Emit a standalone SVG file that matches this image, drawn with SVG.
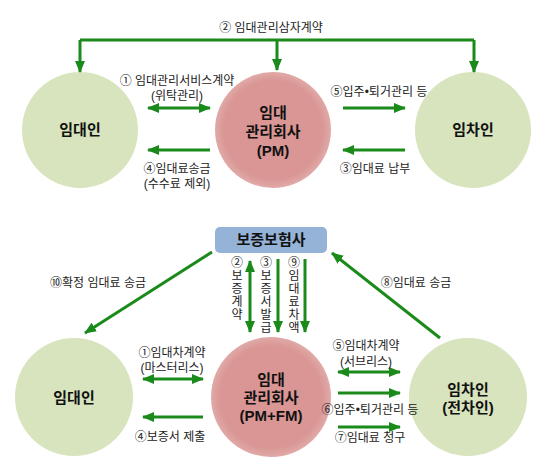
<svg xmlns="http://www.w3.org/2000/svg" width="540" height="468" viewBox="0 0 540 468">
<defs>
<marker id="ah" markerUnits="userSpaceOnUse" markerWidth="12" markerHeight="12" viewBox="0 0 12 12" refX="11" refY="6" orient="auto-start-reverse">
<path d="M0,1 L12,6 L0,11 Z" fill="#1a8a1a"/>
</marker>
<radialGradient id="rg" cx="0.5" cy="0.5" r="0.5">
<stop offset="0.85" stop-color="#d99694"/>
<stop offset="1" stop-color="#e0aaa8"/>
</radialGradient>
</defs>
<style>
.ln{stroke:#1a8a1a;stroke-width:3;fill:none}
.ar{stroke:#1a8a1a;stroke-width:3;fill:none;marker-end:url(#ah)}
.da{stroke:#1a8a1a;stroke-width:3;fill:none;marker-end:url(#ah);marker-start:url(#ah)}
.lb{font-family:"Liberation Sans","Noto Sans CJK KR",sans-serif;font-size:12px;fill:#222;text-anchor:middle}
.nd{font-family:"Liberation Sans","Noto Sans CJK KR",sans-serif;font-size:15px;font-weight:bold;fill:#111;text-anchor:middle}
.gc{fill:#d7e4bd}
.rc{fill:url(#rg)}
</style>
<rect width="540" height="468" fill="#fff"/>

<g id="lessor-top">
<circle class="gc" cx="80" cy="130" r="58"/>
<text class="nd" x="80" y="135">임대인</text>
</g>
<g id="pm-top">
<circle class="rc" cx="273" cy="130" r="58"/>
<text class="nd" x="273" y="118">임대</text>
<text class="nd" x="273" y="137">관리회사</text>
<text class="nd" x="273" y="156">(PM)</text>
</g>
<g id="tenant-top">
<circle class="gc" cx="473" cy="130" r="58"/>
<text class="nd" x="473" y="135">임차인</text>
</g>

<g id="insurer">
<rect x="215" y="227" width="112" height="26" rx="5" fill="#95b3d7"/>
<text class="nd" x="271" y="245">보증보험사</text>
</g>
<g id="lessor-bottom">
<circle class="gc" cx="74" cy="397" r="59"/>
<text class="nd" x="74" y="403">임대인</text>
</g>
<g id="pm-bottom">
<circle class="rc" cx="271" cy="397" r="60"/>
<text class="nd" x="271" y="385">임대</text>
<text class="nd" x="271" y="403">관리회사</text>
<text class="nd" x="271" y="421">(PM+FM)</text>
</g>
<g id="tenant-bottom">
<circle class="gc" cx="468" cy="397" r="59"/>
<text class="nd" x="468" y="395">임차인</text>
<text class="nd" x="468" y="413">(전차인)</text>
</g>

<g id="connectors">
<path class="ln" d="M80,40 H474"/>
<path class="ar" d="M80,40 V72"/>
<path class="ar" d="M277,40 V70"/>
<path class="ar" d="M474,40 V72"/>
<path class="da" d="M148,108 H210"/>
<path class="ar" d="M210,150 H148"/>
<path class="ar" d="M343,108 H405"/>
<path class="ar" d="M405,150 H343"/>

<path class="da" d="M250,261 V332"/>
<path class="ar" d="M278,259 V332"/>
<path class="ar" d="M305,259 V332"/>
<path class="ar" d="M212,252 L85,333"/>
<path class="ar" d="M440,338 L332,253"/>
<path class="da" d="M143,379 H203"/>
<path class="ar" d="M203,417 H143"/>
<path class="da" d="M338,372 H400"/>
<path class="ar" d="M338,393 H400"/>
<path class="ar" d="M338,427 H400"/>
</g>

<g id="labels">
<text class="lb" x="271" y="32">② 임대관리삼자계약</text>
<text class="lb" x="177" y="85">① 임대관리서비스계약</text>
<text class="lb" x="177" y="100">(위탁관리)</text>
<text class="lb" x="177" y="173">④임대료송금</text>
<text class="lb" x="177" y="188">(수수료 제외)</text>
<text class="lb" x="379" y="96">⑤입주•퇴거관리 등</text>
<text class="lb" x="375" y="173">③임대료 납부</text>

<text class="lb" x="237" y="267"><tspan x="237">②</tspan><tspan x="237" dy="13">보</tspan><tspan x="237" dy="13">증</tspan><tspan x="237" dy="13">계</tspan><tspan x="237" dy="13">약</tspan></text>
<text class="lb" x="266" y="267"><tspan x="266">③</tspan><tspan x="266" dy="13">보</tspan><tspan x="266" dy="13">증</tspan><tspan x="266" dy="13">서</tspan><tspan x="266" dy="13">발</tspan><tspan x="266" dy="13">급</tspan></text>
<text class="lb" x="294" y="267"><tspan x="294">⑨</tspan><tspan x="294" dy="13">임</tspan><tspan x="294" dy="13">대</tspan><tspan x="294" dy="13">료</tspan><tspan x="294" dy="13">차</tspan><tspan x="294" dy="13">액</tspan></text>

<text class="lb" x="98" y="287">⑩확정 임대료 송금</text>
<text class="lb" x="416" y="287">⑧임대료 송금</text>
<text class="lb" x="172" y="357">①임대차계약</text>
<text class="lb" x="172" y="372">(마스터리스)</text>
<text class="lb" x="170" y="441">④보증서 제출</text>
<text class="lb" x="366" y="350">⑤임대차계약</text>
<text class="lb" x="366" y="366">(서브리스)</text>
<text class="lb" x="370" y="414">⑥입주•퇴거관리 등</text>
<text class="lb" x="370" y="442">⑦임대료 청구</text>
</g>
</svg>
